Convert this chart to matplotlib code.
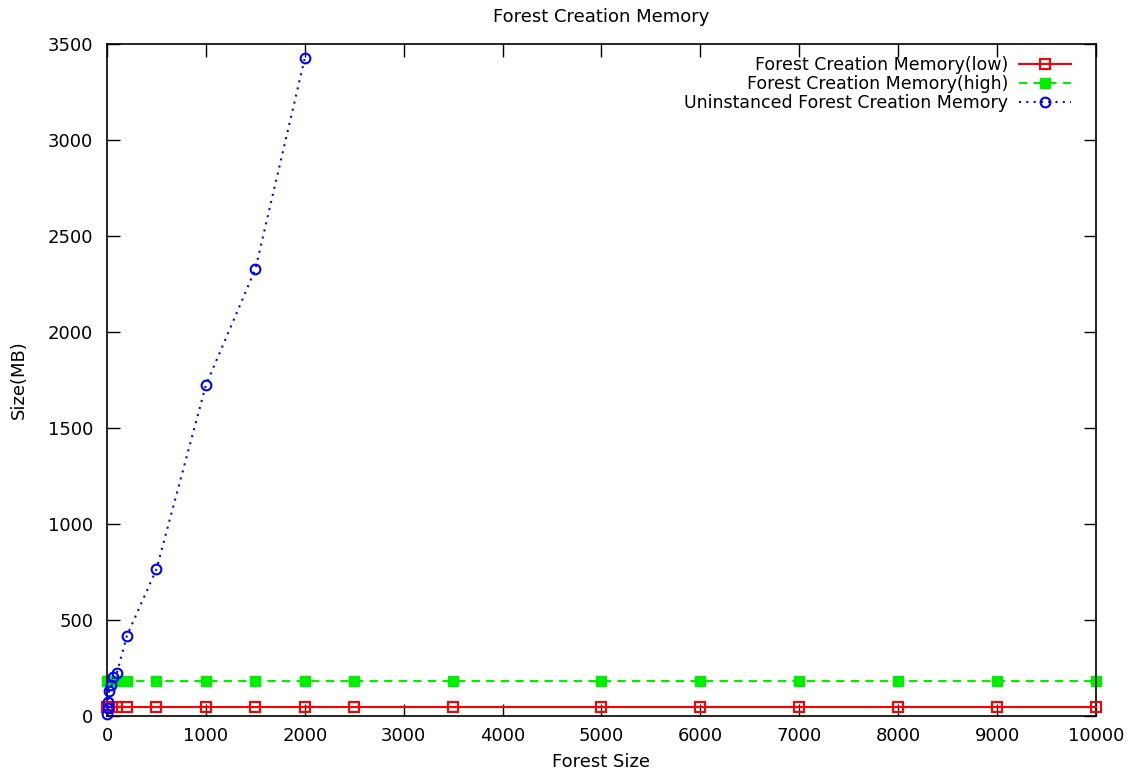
import matplotlib
matplotlib.use('Agg')
import matplotlib.pyplot as plt

# data
size_low_high = [1, 10, 20, 50, 100, 200, 500, 1000, 1500, 2000, 2500,
                 3500, 5000, 6000, 7000, 8000, 9000, 10000]
mem_low = [47] * len(size_low_high)
mem_high = [182] * len(size_low_high)

size_uninst = [1, 5, 10, 20, 45, 65, 100, 200, 500, 1000, 1500, 2000]
mem_uninst = [8, 40, 75, 132, 161, 204, 225, 417, 766, 1724, 2328, 3427]

fig = plt.figure(figsize=(11.34, 7.73), dpi=100)
ax = fig.add_axes([0.0944, 0.0737, 0.872, 0.8693])

ax.plot(size_low_high, mem_low, color='#ff0000', lw=1.5, ls='-',
        marker='s', ms=7, mfc='none', mec='#ff0000', mew=1.5,
        label='Forest Creation Memory(low)', clip_on=False, zorder=3)
ax.plot(size_low_high, mem_high, color='#00ee00', lw=1.5, ls=(0, (4, 3)),
        marker='s', ms=7, mfc='#00ee00', mec='#00ee00',
        label='Forest Creation Memory(high)', clip_on=False, zorder=2)
ax.plot(size_uninst, mem_uninst, color='#0000ff', lw=1.5, ls=(0, (1, 2.5)),
        marker='o', ms=7, mfc='none', mec='#0000ff', mew=1.5,
        label='Uninstanced Forest Creation Memory', clip_on=False, zorder=4)

ax.set_xlim(0, 10000)
ax.set_ylim(0, 3500)
ax.set_xticks(range(0, 10001, 1000))
ax.set_yticks(range(0, 3501, 500))
ax.tick_params(direction='in', top=True, right=True, length=9, width=1,
               labelsize=13)
ax.tick_params(axis='y', pad=10)
ax.tick_params(axis='x', pad=8)
for s in ax.spines.values():
    s.set_linewidth(1.2)

ax.set_title('Forest Creation Memory', fontsize=13, pad=16)
ax.set_xlabel('Forest Size', fontsize=13, labelpad=6)
ax.set_ylabel('Size(MB)', fontsize=13, labelpad=14)

ax.legend(loc='upper right', bbox_to_anchor=(0.987, 1.0), frameon=False,
          markerfirst=False, fontsize=12.5,
          handlelength=3.0, handletextpad=0.6, labelspacing=0.05,
          borderaxespad=0.5, borderpad=0.2)

fig.savefig('out.png', dpi=100, facecolor='white')
